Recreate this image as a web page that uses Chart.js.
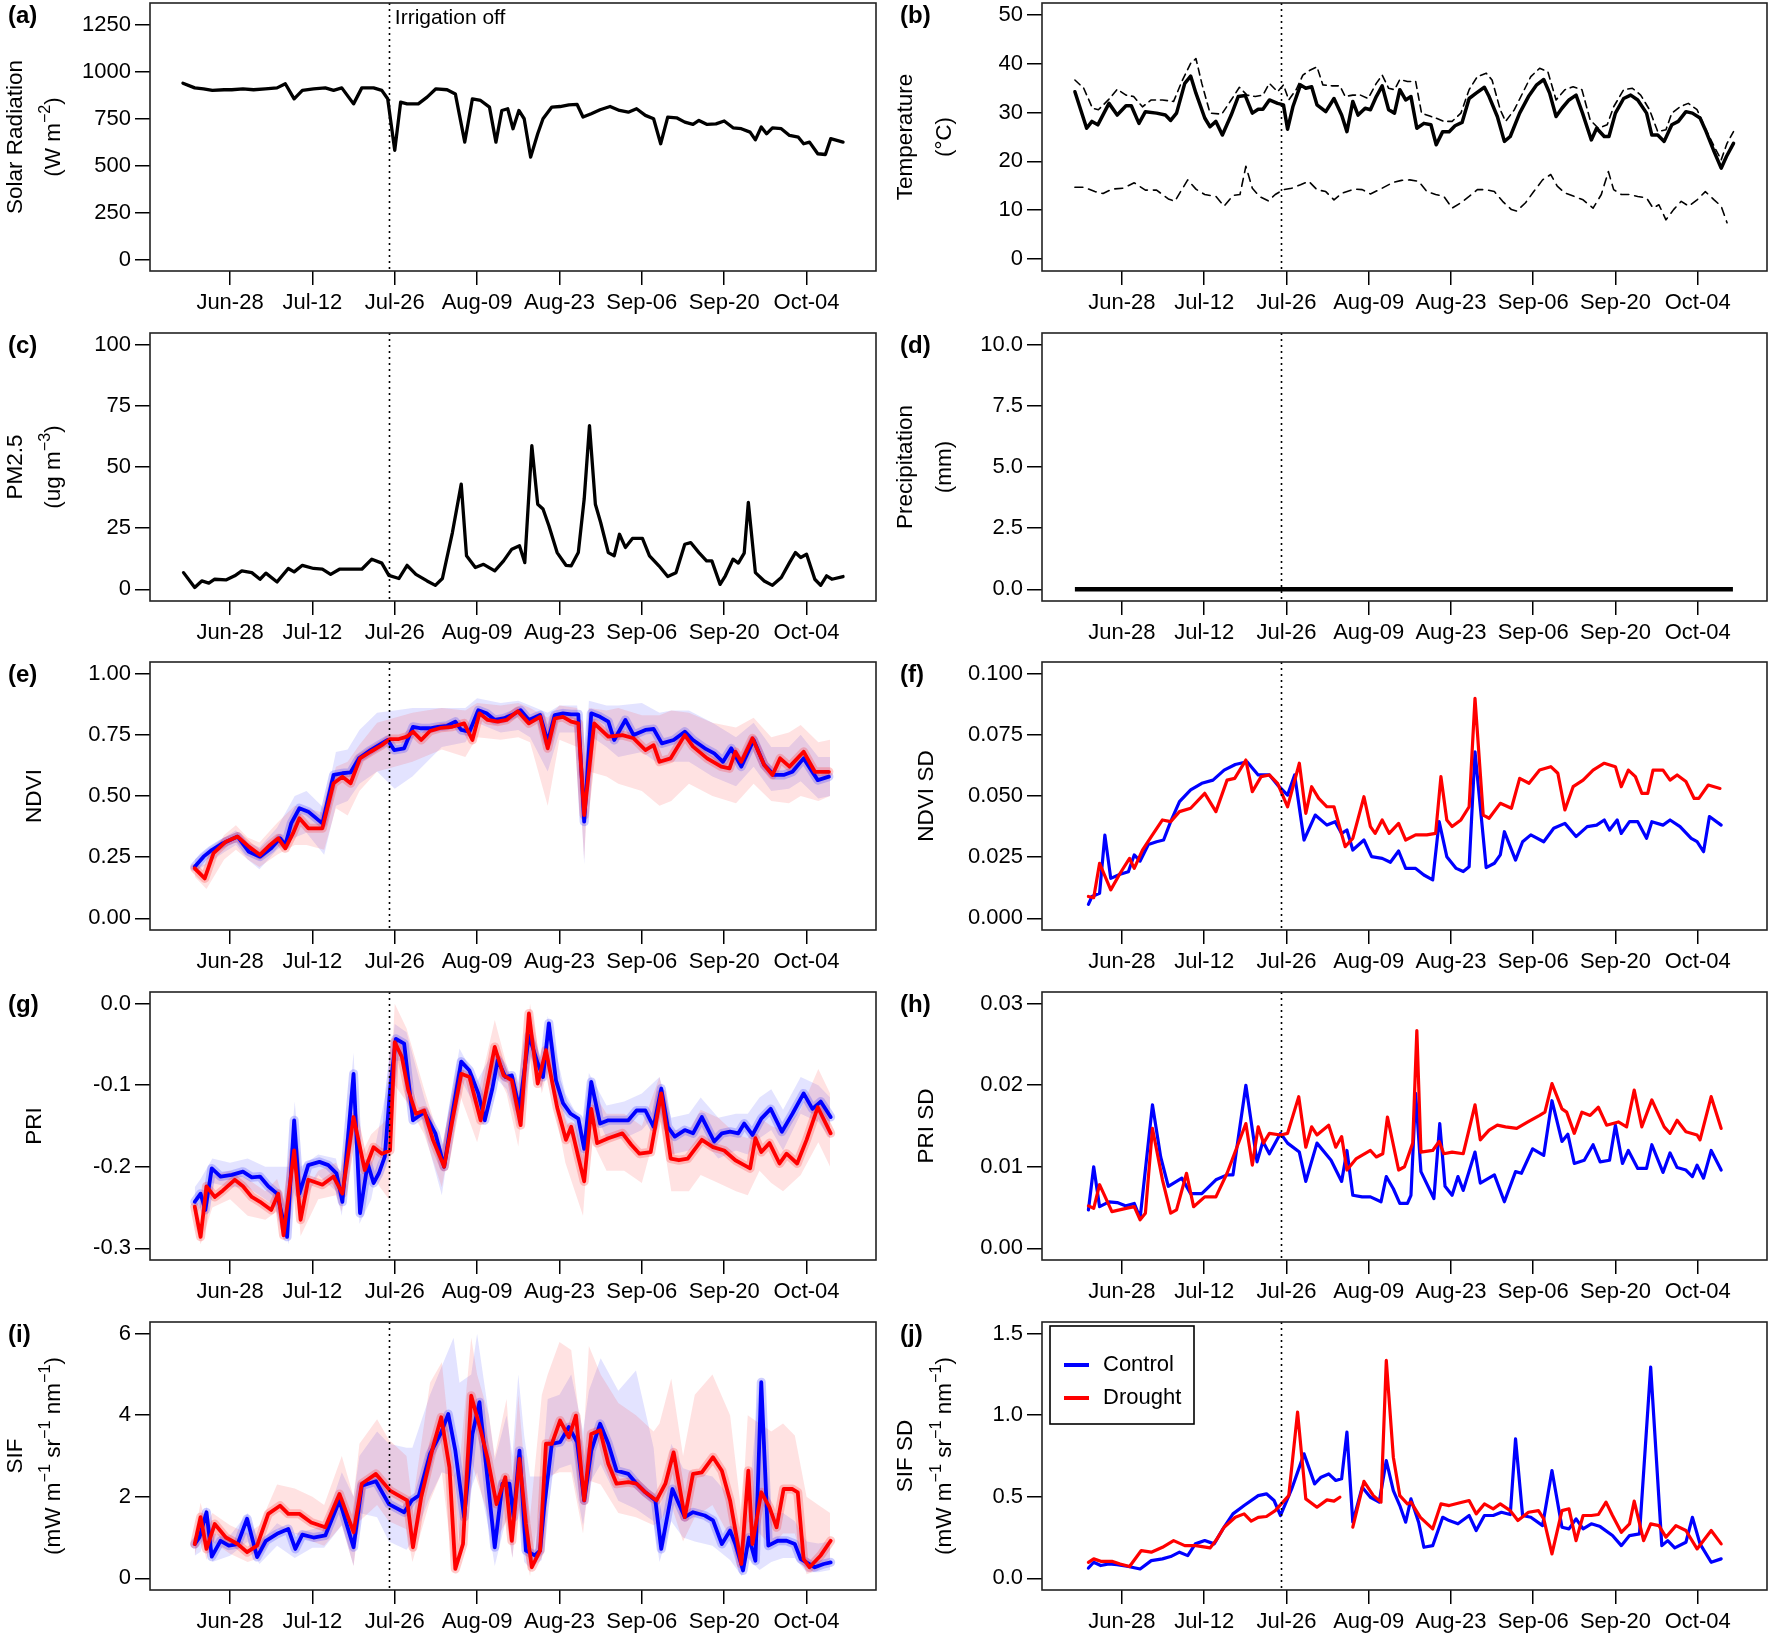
<!DOCTYPE html>
<html>
<head>
<meta charset="utf-8">
<script src="https://cdn.jsdelivr.net/npm/chart.js"></script>
<style>
html,body{margin:0;padding:0;background:#fff;}
body{width:1770px;height:1636px;position:relative;overflow:hidden;}
canvas{position:absolute;}
</style>
</head>
<body>
<script>
// ---------------- shared axis data ----------------
// x values are days relative to Jun-28
const tickDays = [0,14,28,42,56,70,84,98];
const tickLabels = ['Jun-28','Jul-12','Jul-26','Aug-09','Aug-23','Sep-06','Sep-20','Oct-04'];
const irrigationDay = 27;
const irrigationText = 'Irrigation off';
const legendLabels = ['Control','Drought'];

// ---------------- (a) solar radiation ----------------
const solarDays = [-8,-6,-4.5,-3,-1,0.3,2.2,4,6,8,9.4,10.9,12.3,14.2,16.2,17.6,19,21,22.4,24.4,25.8,26.8,28,29,30.1,32,33.5,35,36.9,38.3,39.9,41.2,42.6,44.1,45.2,46.2,47.2,48.1,49.1,50,51.1,52.3,53.2,54.7,56.1,57.6,59,60,61.4,62.9,64.6,66.2,67.7,69.1,70.6,72,73.2,74.4,75.9,77.3,78.7,79.7,81.1,82.6,84,85.5,86.9,88.4,89.3,90.3,91.2,92.2,93.7,95.1,96.6,97.5,98.5,99.9,101.2,102.1,104.2];
const solarVals = [938,913,908,900,903,903,908,903,908,913,935,855,900,908,913,900,913,828,913,913,900,855,581,837,828,828,864,908,903,881,625,855,846,811,625,793,802,696,793,749,545,669,749,811,814,823,825,758,776,797,814,793,784,802,767,749,616,758,754,731,719,740,719,722,737,701,696,678,637,705,669,701,696,660,651,616,625,563,559,643,625];

// ---------------- (b) temperature ----------------
const tMeanDays = [-8,-6,-5.1,-4.1,-2.2,-0.8,0.7,1.6,2.9,4,5.9,7.4,8.3,9.3,10.7,11.7,12.6,14.1,15,16,17.1,18.6,19.8,21,22.2,23.2,24,25.1,26.5,27.5,28.2,29.1,30.4,31.3,32.3,33.2,34.7,36.1,37.4,38.3,39.3,40.2,41.4,42.3,43.3,44.3,45.4,46.4,47.3,48.3,49.2,50.2,51.4,52.6,53.5,54.6,55.7,56.7,57.9,59.1,60.3,61.7,62.5,63.9,65.1,66.1,67.7,69.2,70.6,71.8,72.8,73.9,74.9,76.1,77.3,78.4,79.9,80.8,82.1,82.9,84,85.4,86.6,87.8,89.3,90.2,91.2,92.3,93.6,94.7,96,97.1,98.4,99.3,100.8,102,102.9,104.1];
const tMeanVals = [34.3,26.8,28.2,27.5,31.9,29.5,31.4,31.4,27.8,30.2,29.9,29.5,28.4,29.9,36,37.5,34,28.9,27.1,28.2,25.4,29.5,33.3,33.5,29.9,30.7,30.7,32.6,31.9,31.6,26.6,31.2,35.7,35,35.3,31.6,30.2,32.9,29.5,26.1,32.3,29.5,30.9,30.6,33.3,35.5,30.6,29.9,34.7,32.6,33.3,26.8,27.8,27.5,23.4,26.1,26.1,27.3,28,32.9,34,35.2,33.3,29.2,24.1,25.1,29.9,33.3,35.7,36.8,34,29.2,30.9,32.6,33.6,29.9,24.4,26.8,25.1,25.1,29.9,32.9,33.6,32.6,29.9,25.4,25.4,24.1,27.5,28.2,30.2,29.9,28.9,26.5,22,18.6,21,23.7];
const tMaxDays = [-8,-6.5,-5,-4,-2,-0.8,0.7,2,3.5,5,6.9,8.8,10.2,11.7,12.6,13.6,15,17,18.6,20,21.3,22.7,24,25.1,26.5,27.5,28.4,29.7,30.8,32,33.2,34.2,35.8,37.1,38,39.3,40.6,41.9,43.3,44.3,45.4,46.4,47.3,48.6,50,51,52.4,53.4,54.8,56.2,57.7,59.1,60.5,62,63,64.4,65.3,66.8,68.2,69.6,71.1,72.5,73.9,75.4,76.8,78.3,79.7,81.1,82.6,83.7,85.4,86.9,88.3,89.8,91.2,92.6,93.6,95,96.4,97.9,99.3,100.8,102,103,104.1];
const tMaxVals = [36.7,35,30.9,30.6,33,34.8,33.6,33.3,31.2,32.6,32.6,32.3,36.4,40.1,41.1,36,29.9,29.7,32.6,35.2,33.6,33.3,33.6,36,34.3,35.7,32.6,34.8,37.7,38.7,39.4,35.7,35.5,35.5,33.3,33.6,33.6,32.9,36,37.7,35,34.7,36.8,36.4,36.4,29.9,29.3,28.9,28.2,28.2,29.9,34.7,37.4,38.1,36.7,30.6,28.2,30.6,34,37.4,39.1,38.4,32.6,34.7,35.3,34.7,28.5,26.8,27.5,31.2,34.7,35,33.6,30.6,26.1,26.5,29.9,31.2,31.9,30.6,26.8,23.1,20.3,23.7,26.1];
const tMinDays = [-8,-6.5,-4.6,-3.2,-1.7,0.2,2.1,4,5.9,7.9,9,10.2,11.2,12.6,14.1,16,17.4,18.9,20.1,21.1,22.2,23.4,24.9,26.1,27.5,28.9,30.4,31.8,33.2,34.7,36.1,37.5,39.5,40.9,42.3,44.3,46.2,47.6,49,50.5,51.9,53.4,54.8,56.2,57.7,59.1,60.5,62,63.4,64.8,66.3,67.2,68.7,70.1,71.6,73,74.1,75.4,77,78.5,80.2,81.6,82.8,83.7,85,86.4,87.8,89.3,90.4,91.4,92.6,93.9,95.2,96.5,97.9,99.3,100.8,102,103];
const tMinVals = [14.7,14.7,13.8,13.4,14.3,14.5,15.6,14.1,14.1,12.3,11.8,14.2,16.2,14.3,13.2,12.8,10.8,13,13.2,19,14.5,12.8,11.9,13.2,14.2,14.5,15.2,15.9,14.2,13.8,12.1,13.5,14.3,14.2,13.3,14.5,15.7,16.1,16.2,15.9,13.8,13.2,12.8,10.4,11.5,12.8,14.2,14.2,13.8,11.8,10.1,9.8,11.5,13.8,16.2,17.3,14.9,13.5,12.8,12.1,10.4,13.2,17.9,14.2,13.2,13.2,12.8,12.5,10.4,11.1,8,10.1,11.8,10.8,12.1,13.8,12.1,10.8,7.4];

// ---------------- (c) PM2.5 ----------------
const pmDays = [-7.9,-6,-4.8,-3.6,-2.6,-0.7,0.8,2,3.7,5.1,6.1,8,9.9,10.9,12.3,14.2,15.7,17.1,18.6,20.5,22.4,24.1,25.8,27,28.7,30.1,31.6,33.5,34.9,36.1,37.8,39.3,40.2,41.7,43.1,45,46.5,47.9,49.2,50.1,51.3,52.3,53.2,54.2,55.6,57.1,58,59.2,60.2,61.1,62.1,63,64.3,65.3,66.2,67.2,68.4,70.1,71.3,72.9,74.4,75.8,77.3,78.3,79.7,81,81.9,83.3,84.2,85.5,86.4,87.4,88.1,89.3,90.8,92.2,93.7,95.1,96.1,97,98,99.4,100.4,101.4,102.3,104.2];
const pmVals = [6.8,0.7,3.4,2.5,4.1,3.8,5.5,7.5,6.8,4.1,6.6,3,8.5,7.1,9.8,8.5,8.2,6.1,8.2,8.2,8.2,12.3,10.7,5.7,4.4,9.8,6.1,3.4,1.6,4.4,23.2,43,13.7,8.9,10.2,7.5,11.6,16.4,17.8,10.9,58.7,34.8,32.8,26,15,9.8,9.6,15,36.9,66.9,34.8,27.3,15,13.7,22.5,17.1,20.8,20.8,13.7,9.6,5.2,6.8,18.4,19.1,15,11.6,11.6,2,5.5,12.3,10.7,14.8,35.5,6.8,3.4,1.6,4.8,10.9,15,13,14.3,4.1,1.6,5.5,4.1,5.2];

// ---------------- (d) precipitation ----------------
const precipDays = [-8,0,14,28,42,56,70,84,98,104];
const precipVals = [0,0,0,0,0,0,0,0,0,0];

// ---------------- (e) NDVI ----------------
const ndviCtrlDays = [-6,-4.5,-3.1,-1.2,1.3,3.2,5.1,7,8.5,9.4,10.4,11.8,13.3,15.7,17.6,19.1,20.5,21.9,23.9,25.3,26.8,27.9,29.6,31.1,32.5,34,35.4,36.9,38.3,39.3,40.7,42.2,43.6,45,46.5,47.9,49.4,50.8,52.7,54,55.2,56.6,58,59.2,60.2,61.4,62.9,64.3,65.3,67.2,68.6,70.6,72,73.4,75.4,77.3,78.7,80.7,82.3,83.8,85.2,86.9,89,90.8,92.5,94.1,95.6,97.5,99.9,101.8];
const ndviCtrlVals = [0.211,0.252,0.279,0.307,0.334,0.272,0.252,0.286,0.327,0.3,0.388,0.45,0.436,0.388,0.586,0.593,0.597,0.654,0.688,0.708,0.729,0.688,0.695,0.783,0.777,0.777,0.783,0.787,0.804,0.77,0.763,0.851,0.838,0.811,0.817,0.831,0.851,0.811,0.831,0.722,0.831,0.838,0.834,0.834,0.395,0.838,0.824,0.804,0.729,0.811,0.749,0.77,0.774,0.715,0.729,0.763,0.729,0.695,0.674,0.64,0.695,0.62,0.729,0.627,0.586,0.586,0.599,0.654,0.565,0.579];
const ndviDrtDays = [-6,-4.3,-2.8,-0.7,1.3,3.2,5.1,6.8,8.2,9.4,10.7,11.8,13.3,15.7,17.6,19.1,20.5,22.1,23.9,25.8,27.2,28.7,30.1,31.1,32.5,34,35.9,37.8,39.8,41.2,42.4,43.8,45.5,47,48.9,50.8,52.7,54,55.2,56.6,58,59.2,60.2,61.9,64.3,66.7,68.6,70.6,72,73,74.9,77.3,78.7,81.1,83.5,84.9,85.9,86.9,88.8,90.8,92.2,93.5,95.1,97.5,99.4,101.8];
const ndviDrtVals = [0.204,0.163,0.266,0.313,0.334,0.293,0.259,0.3,0.327,0.286,0.347,0.409,0.368,0.368,0.552,0.579,0.552,0.654,0.681,0.708,0.733,0.733,0.743,0.763,0.729,0.766,0.779,0.783,0.797,0.729,0.838,0.811,0.804,0.811,0.847,0.797,0.824,0.695,0.817,0.824,0.804,0.797,0.422,0.797,0.743,0.749,0.736,0.688,0.708,0.64,0.654,0.749,0.702,0.654,0.62,0.613,0.681,0.64,0.736,0.627,0.586,0.654,0.62,0.681,0.599,0.599];
// envelope of the individual-pixel lines
const ndviBandDays = [-6,-4,-1,1,3,5,8,11,13,16,18,20,22,25,28,31,36,40,42,46,49,51,54,56,59,60.2,61,64,66,70,73,75,78,82,86,89,92,95,97,100,102];
const ndviCtrlHi = [0.24,0.28,0.33,0.36,0.31,0.29,0.37,0.50,0.52,0.45,0.68,0.69,0.77,0.84,0.85,0.86,0.86,0.86,0.90,0.88,0.89,0.87,0.84,0.87,0.87,0.55,0.89,0.87,0.87,0.88,0.84,0.85,0.85,0.80,0.74,0.80,0.70,0.70,0.75,0.66,0.66];
const ndviCtrlLo = [0.19,0.22,0.27,0.30,0.24,0.20,0.28,0.33,0.35,0.26,0.46,0.48,0.55,0.60,0.53,0.58,0.70,0.72,0.80,0.76,0.77,0.74,0.60,0.76,0.76,0.22,0.75,0.70,0.66,0.68,0.63,0.64,0.64,0.58,0.54,0.62,0.52,0.53,0.56,0.49,0.50];
const ndviDrtHi = [0.22,0.22,0.34,0.38,0.33,0.31,0.39,0.46,0.45,0.43,0.62,0.64,0.71,0.80,0.82,0.84,0.86,0.85,0.88,0.87,0.88,0.86,0.82,0.87,0.86,0.60,0.86,0.85,0.86,0.83,0.83,0.85,0.84,0.80,0.78,0.82,0.74,0.76,0.79,0.72,0.73];
const ndviDrtLo = [0.17,0.12,0.24,0.28,0.24,0.21,0.26,0.30,0.30,0.28,0.45,0.42,0.52,0.60,0.62,0.64,0.69,0.66,0.74,0.73,0.74,0.72,0.46,0.73,0.70,0.24,0.60,0.58,0.55,0.52,0.46,0.48,0.55,0.50,0.47,0.55,0.48,0.47,0.50,0.48,0.50];

// ---------------- (f) NDVI SD ----------------
const ndviSdCtrlDays = [-5.7,-5.1,-3.8,-2.9,-1.9,-0.3,1.1,2.1,3.1,4.5,5.9,7.1,8.3,9.8,11.7,13.6,15.5,17.4,19.3,21.3,23.2,25.1,26.5,28.2,29.4,31,32.9,34.9,36.3,37.4,38.3,39.3,41.2,42.5,44.3,45.7,47.1,48.3,50,51.4,52.9,54,55.3,56.9,58.1,59.1,60.1,62,63.4,64.4,65.1,67,68.2,69.6,71.8,73.5,75.4,77.3,79.2,80.8,82.1,83,84.3,85,86.4,87.8,89.3,90.2,92.1,93.3,95,96.9,97.9,99,100,102];
const ndviSdCtrlVals = [0.0057,0.0089,0.0102,0.034,0.0163,0.018,0.019,0.0259,0.0234,0.0302,0.0313,0.032,0.0395,0.0477,0.0525,0.0552,0.0565,0.0606,0.0629,0.064,0.0586,0.0586,0.0545,0.0504,0.0586,0.032,0.0422,0.0381,0.0395,0.0347,0.0361,0.0279,0.032,0.0252,0.0245,0.0229,0.0275,0.0204,0.0204,0.0177,0.0157,0.0395,0.0252,0.0204,0.0191,0.0211,0.0681,0.0207,0.0225,0.0259,0.0354,0.0238,0.0313,0.0341,0.0313,0.0368,0.0388,0.0334,0.0375,0.0381,0.0402,0.0361,0.0402,0.0347,0.0395,0.0395,0.0327,0.0395,0.0381,0.0402,0.0375,0.0327,0.0313,0.0272,0.0416,0.0381];
const ndviSdDrtDays = [-5.7,-4.8,-3.8,-1.9,-0.3,1.3,2.1,3.5,5,6.9,8.3,9.8,11.7,14.1,16,17.9,19.2,21.1,22.2,23.7,25.1,26.5,28.2,28.9,30.2,31.3,32.3,33.5,34.9,36.1,38,39.3,41.2,42.3,43.1,44.3,45.5,47.1,48.3,50,51.9,53.4,54.3,55.3,56.2,57.7,59.1,60.1,61.5,62.5,64.4,66.3,67.7,69.3,71.1,73,74.2,75.4,76.8,78.5,80.2,82.1,84,85,86.2,87.4,88.5,89.5,90.4,92.1,93.3,94.5,96,97.4,98.2,99.8,101.8];
const ndviSdDrtVals = [0.0089,0.0084,0.0225,0.0116,0.0184,0.0245,0.0204,0.0279,0.0334,0.0402,0.0395,0.0436,0.045,0.0511,0.0436,0.0565,0.0572,0.0647,0.0518,0.0579,0.0586,0.0552,0.0456,0.0518,0.0634,0.0429,0.0538,0.049,0.0456,0.0456,0.0293,0.0327,0.0497,0.0375,0.0347,0.0402,0.0347,0.0388,0.032,0.0341,0.0341,0.0347,0.0579,0.0402,0.0375,0.0402,0.0456,0.0899,0.0422,0.0409,0.047,0.045,0.0572,0.0552,0.0606,0.062,0.0593,0.0443,0.0538,0.0565,0.0606,0.0634,0.062,0.0538,0.0606,0.0579,0.0511,0.0511,0.0606,0.0606,0.0565,0.0586,0.0559,0.049,0.049,0.0545,0.0531];

// ---------------- (g) PRI ----------------
const priCtrlDays = [-6,-5,-4.2,-3.1,-1.6,0.3,2.2,3.7,5.1,6.5,8,9.7,10.9,11.8,13.3,15.2,16.7,18.1,19.1,21,22.1,23.4,24.4,25.3,26.3,27.2,28.2,29.6,31.1,33,34.9,36.4,37.8,39.3,40.7,42.2,43.3,44.6,45.5,46.8,47.9,49.2,50.8,52.3,53.2,54.2,55.4,56.6,57.9,59.2,60.2,61.4,62.9,64.3,65.7,67.7,69.1,70.6,72,73.3,74.4,75.6,77.3,78.7,80.2,82.3,83.6,85,86.4,87.4,88.8,90.3,91.9,93.8,95.6,97.5,99,100.4,102.1];
const priCtrlVals = [-0.243,-0.233,-0.253,-0.202,-0.212,-0.21,-0.206,-0.213,-0.212,-0.224,-0.233,-0.286,-0.143,-0.233,-0.198,-0.194,-0.198,-0.208,-0.243,-0.086,-0.257,-0.196,-0.22,-0.208,-0.188,-0.106,-0.043,-0.049,-0.143,-0.133,-0.159,-0.2,-0.135,-0.071,-0.082,-0.11,-0.143,-0.104,-0.069,-0.09,-0.088,-0.129,-0.039,-0.073,-0.09,-0.024,-0.094,-0.122,-0.135,-0.141,-0.178,-0.096,-0.147,-0.143,-0.143,-0.143,-0.131,-0.131,-0.151,-0.104,-0.151,-0.163,-0.155,-0.159,-0.139,-0.169,-0.159,-0.157,-0.159,-0.147,-0.161,-0.141,-0.129,-0.157,-0.135,-0.11,-0.129,-0.12,-0.139];
const priDrtDays = [-6,-5,-4,-2.6,-1.2,0.8,2.2,3.7,5.1,7,8.2,9.1,10.9,12,13.3,15.7,17.6,19.1,21,22.9,24.4,25.8,27.2,28,29.2,30.3,31.6,33,34.5,36.4,37.8,39.3,40.7,42.6,45,46.5,47.9,49.4,50.8,52.3,53.7,55.6,57.1,58,59.2,60.2,61.4,62.4,64.3,66.7,68.2,69.6,71.5,73.3,74.9,76.3,77.8,80.2,82.1,84,85.9,87.4,88.4,89.3,90.3,91.7,93.4,94.6,96.4,98,99.9,102.1];
const priDrtVals = [-0.249,-0.286,-0.224,-0.237,-0.229,-0.216,-0.224,-0.237,-0.243,-0.253,-0.233,-0.284,-0.18,-0.265,-0.216,-0.222,-0.212,-0.233,-0.139,-0.204,-0.176,-0.184,-0.18,-0.047,-0.065,-0.106,-0.135,-0.131,-0.167,-0.2,-0.143,-0.086,-0.09,-0.143,-0.053,-0.088,-0.094,-0.149,-0.012,-0.098,-0.057,-0.127,-0.167,-0.151,-0.188,-0.218,-0.129,-0.171,-0.165,-0.159,-0.173,-0.184,-0.182,-0.11,-0.19,-0.192,-0.19,-0.167,-0.176,-0.18,-0.192,-0.198,-0.202,-0.165,-0.182,-0.171,-0.196,-0.184,-0.196,-0.167,-0.127,-0.159];
const priBandDays = [-6,-5,-3,0,3,6,8,10,11,12,15,18,19,21,22,24,27,28,30,33,36,39,42,45,47,49,51,53,54,57,60,61,64,67,70,73,75,78,80,83,86,88,90,92,94,97,100,102];
const priCtrlHi = [-0.225,-0.215,-0.19,-0.195,-0.19,-0.2,-0.2,-0.2,-0.12,-0.2,-0.185,-0.19,-0.22,-0.06,-0.21,-0.2,-0.09,-0.025,-0.035,-0.115,-0.18,-0.055,-0.095,-0.055,-0.075,-0.115,-0.025,-0.075,-0.015,-0.11,-0.15,-0.085,-0.125,-0.12,-0.11,-0.09,-0.14,-0.135,-0.115,-0.14,-0.135,-0.135,-0.115,-0.105,-0.13,-0.09,-0.1,-0.115];
const priCtrlLo = [-0.26,-0.25,-0.22,-0.225,-0.225,-0.24,-0.25,-0.295,-0.17,-0.25,-0.21,-0.23,-0.26,-0.11,-0.27,-0.24,-0.13,-0.07,-0.07,-0.155,-0.235,-0.09,-0.13,-0.09,-0.105,-0.15,-0.06,-0.105,-0.04,-0.145,-0.2,-0.115,-0.165,-0.165,-0.155,-0.13,-0.185,-0.18,-0.165,-0.19,-0.18,-0.185,-0.165,-0.155,-0.18,-0.135,-0.145,-0.165];
const priDrtHi = [-0.235,-0.27,-0.21,-0.205,-0.215,-0.23,-0.215,-0.26,-0.16,-0.24,-0.205,-0.195,-0.21,-0.115,-0.19,-0.16,-0.14,0.0,-0.03,-0.105,-0.175,-0.07,-0.115,-0.02,-0.075,-0.12,0.0,-0.08,-0.03,-0.14,-0.19,-0.1,-0.135,-0.135,-0.15,-0.09,-0.155,-0.155,-0.13,-0.14,-0.16,-0.165,-0.14,-0.15,-0.155,-0.13,-0.08,-0.11];
const priDrtLo = [-0.27,-0.295,-0.25,-0.24,-0.26,-0.265,-0.255,-0.29,-0.2,-0.285,-0.24,-0.235,-0.255,-0.16,-0.23,-0.21,-0.24,-0.1,-0.12,-0.16,-0.225,-0.11,-0.17,-0.08,-0.11,-0.175,-0.04,-0.11,-0.08,-0.195,-0.26,-0.16,-0.205,-0.205,-0.22,-0.14,-0.23,-0.23,-0.21,-0.22,-0.23,-0.235,-0.205,-0.22,-0.23,-0.21,-0.17,-0.2];

// ---------------- (h) PRI SD ----------------
const priSdCtrlDays = [-5.7,-4.8,-3.8,-2.2,-0.8,0.7,2.1,3.1,5.2,6.6,7.9,10.2,11.7,13.6,16,17.9,18.9,21.1,23,24,25.1,27,28.2,30.2,31.3,33.2,35.6,37.4,38.3,39.3,40.9,42.3,44.1,45,46.2,47.3,48.6,49.2,50,50.9,53.1,54.1,55,56.2,57.2,58.1,60.1,61,63.4,65.1,67,68,69.9,71.8,73.2,74.9,75.9,77,78.7,80.2,81.4,83,84,85.2,86.2,87.8,89.3,90.2,92.1,93.3,94.5,96,97.1,97.9,99,100.3,102];
const priSdCtrlVals = [0.0047,0.01,0.0051,0.0057,0.0056,0.0052,0.0055,0.0037,0.0176,0.0112,0.0076,0.0086,0.0067,0.0067,0.0084,0.009,0.009,0.02,0.0106,0.0131,0.0116,0.0141,0.0129,0.0118,0.0082,0.0129,0.0108,0.0082,0.012,0.0065,0.0063,0.0063,0.0057,0.0088,0.0073,0.0055,0.0055,0.0065,0.019,0.0094,0.0061,0.0153,0.0076,0.0065,0.0088,0.0071,0.0118,0.008,0.009,0.0057,0.0094,0.0092,0.0122,0.0114,0.0181,0.0131,0.014,0.0104,0.0108,0.0127,0.0106,0.0108,0.0151,0.0104,0.012,0.0098,0.0098,0.0127,0.0093,0.0117,0.0099,0.0096,0.0088,0.0102,0.0086,0.012,0.0096];
const priSdDrtDays = [-5.7,-4.8,-3.8,-1.7,0.7,2.1,3.1,4,5.2,6.9,8.3,9.3,11,12.2,14.1,16,17.9,21.1,22.2,23.2,24.1,25.1,27,28.2,30.1,31.3,32.3,33.2,35.2,36.4,37.4,38.3,39.9,42.3,43.3,44.4,45.2,47.1,48.1,49.5,50.2,50.9,52.9,54,54.8,56.2,58.1,60.1,61,62.5,63.9,65.3,67.2,69.1,71.1,72,73.2,74.9,75.7,77,78.3,79.7,81.1,82.5,84.5,85.9,87.2,88.5,90.2,92.3,93.3,94.5,96,97.9,98.4,100.3,102];
const priSdDrtVals = [0.0052,0.0049,0.0078,0.0045,0.0049,0.0051,0.0035,0.0043,0.0147,0.0084,0.0043,0.0047,0.0092,0.0051,0.0063,0.0063,0.0092,0.0153,0.0102,0.0149,0.0129,0.0141,0.0139,0.0141,0.0186,0.0124,0.0149,0.0139,0.0151,0.0124,0.0137,0.0096,0.011,0.012,0.0112,0.0116,0.0161,0.0096,0.01,0.0129,0.0267,0.0118,0.012,0.0131,0.0116,0.0118,0.0116,0.0176,0.0133,0.0145,0.0151,0.0149,0.0147,0.0155,0.0163,0.0167,0.0202,0.0171,0.0167,0.0141,0.0167,0.0163,0.0173,0.0151,0.0155,0.0149,0.0194,0.0149,0.0182,0.0149,0.0141,0.0157,0.0143,0.0139,0.0133,0.0186,0.0147];

// ---------------- (i) SIF ----------------
const sifCtrlDays = [-6,-5.2,-4,-3.1,-1.6,-0.2,1.3,2.9,4.6,6.1,8,9.9,11.1,12.3,14.2,16.2,18.6,21,22.4,24.8,27,29.6,30.9,32.1,34,35.9,37.1,38.3,39.8,41.2,42.4,43.8,45,46.3,47.5,48.2,49.2,50.3,51.8,52.7,53.4,54.7,56.1,57.6,59,60.2,61.4,62.9,64.3,65.7,67.7,69.1,70.6,72.3,73.3,75.2,76.3,77.3,78.7,80.7,82.1,83.6,85,85.9,87.2,88.2,89.3,90.3,91.5,93.1,94.6,96,97,98,99.4,100.9,102.1];
const sifCtrlVals = [0.84,1,1.62,0.53,0.92,0.8,0.84,1.46,0.52,0.92,1.09,1.21,0.72,1.07,1,1.05,1.91,0.76,2.27,2.38,1.82,1.62,1.91,2.03,3.05,3.58,4.03,3.13,1.5,3.54,4.32,2.4,0.76,2.32,2.32,1.5,3.13,0.68,0.56,0.68,1.74,3.3,3.34,3.71,3.34,1.91,3.13,3.79,3.3,2.64,2.56,2.32,2.11,1.91,0.72,2.19,1.82,1.5,1.62,1.54,1.42,0.84,1.17,0.84,0.19,1,0.43,4.81,0.8,0.92,0.92,0.84,0.47,0.39,0.27,0.35,0.39];
const sifDrtDays = [-6,-5,-4,-2.6,-0.7,1.3,2.9,4.6,6.5,8.5,9.9,11.8,13.8,16.2,18.6,21,22.4,24.8,27.2,30.1,31.1,32.5,34.5,35.9,37.3,38.3,39.6,41,42.6,43.8,45.3,46.8,47.9,49.2,50.3,51.3,52.7,53.7,54.7,56.1,57.6,58.8,60.2,61.4,62.9,64.3,65.7,67.7,69.1,70.6,72.5,74,75.4,77.3,78.7,80.2,82.1,83.6,85,86.9,88.1,88.8,90.3,91.7,92.9,94.1,95.6,96.5,97.5,98.5,100.4,102.1];
const sifDrtVals = [0.84,1.5,0.72,1.33,1,0.84,0.64,0.8,1.58,1.78,1.58,1.58,1.37,1.25,2.07,1.13,2.32,2.56,2.15,1.91,0.76,1.99,3.22,3.95,2.72,0.23,0.84,4.48,3.63,2.93,1.82,2.48,0.92,2.93,1.33,0.27,0.68,3.3,3.3,3.87,3.46,3.99,1.91,3.54,3.63,2.81,2.32,2.36,2.32,2.11,1.91,2.32,3.09,1.5,2.56,2.6,2.97,2.64,1.91,0.35,2.64,0.84,2.11,1.74,1.25,2.19,2.19,2.11,0.47,0.27,0.56,0.92];
const sifBandDays = [-6,-5,-4,-3,0,3,5,8,11,14,16,19,21,22,25,27,30,31,34,36,38,39,41,42,44,45,47,48,49,50,51,53,54,56,58,60,61,63,66,69,72,73,75,77,79,82,85,87,88,90,92,94,96,98,100,102];
const sifCtrlHi = [1.0,1.2,1.75,1.1,1.05,1.6,0.85,1.35,1.1,1.2,1.3,2.6,2.0,3.0,3.6,3.3,3.2,3.2,4.5,5.2,5.9,4.8,5.0,6.0,4.0,2.9,4.0,3.0,5.0,3.5,2.5,2.5,4.4,4.5,5.0,3.6,4.6,5.4,4.6,5.1,3.2,1.6,3.3,2.7,2.6,2.5,2.0,0.8,1.6,4.9,1.6,1.6,1.4,0.9,0.85,0.9];
const sifCtrlLo = [0.55,0.65,1.1,0.4,0.55,0.9,0.35,0.8,0.5,0.75,0.75,1.3,0.3,1.6,1.5,0.9,0.7,0.9,2.0,2.6,2.5,0.9,2.2,2.6,1.2,0.3,1.5,0.5,2.0,0.4,0.25,0.45,2.4,2.7,2.8,1.3,2.3,2.8,1.9,1.7,1.4,0.4,1.4,1.0,0.9,0.8,0.45,0.05,0.5,0.2,0.4,0.5,0.5,0.15,0.15,0.2];
const sifDrtHi = [1.1,1.85,1.3,1.6,1.3,1.1,1.3,2.3,2.2,2.0,1.8,3.0,2.0,3.3,3.9,3.4,3.0,1.8,4.8,5.3,2.5,2.8,5.9,5.0,4.0,3.0,4.4,2.5,4.5,2.8,1.5,4.5,5.0,5.8,5.6,3.2,5.7,5.0,4.3,4.0,3.6,3.8,4.9,3.0,4.5,5.0,4.0,1.5,4.0,3.8,3.6,3.8,3.5,2.0,1.8,1.6];
const sifDrtLo = [0.55,1.1,0.45,0.9,0.6,0.4,0.5,1.2,1.1,0.9,0.8,1.3,0.3,1.4,1.8,1.4,1.2,0.4,1.9,2.6,0.15,0.4,2.9,2.4,1.5,0.9,1.4,0.5,1.9,0.7,0.05,2.2,2.5,2.6,2.6,1.1,2.4,2.3,1.6,1.5,1.3,1.4,1.8,0.9,1.5,1.8,1.0,0.15,1.4,1.1,0.8,1.1,1.1,0.1,0.2,0.5];

// ---------------- (j) SIF SD ----------------
const sifSdCtrlDays = [-5.7,-4.8,-3.6,-2.2,-0.8,1.1,3.1,5,6.9,8.3,9.8,11.2,12.5,14.1,15.7,17.2,18.9,20.8,23.2,24.6,25.9,27,28.9,31,32.8,33.9,35.2,36.4,37.4,38.3,39.3,40.9,42.3,43.8,45,46.2,47.3,48.3,49.2,50.5,51.4,52.9,54.6,55.7,57.2,59.1,60.3,61.7,63.2,64.6,66.1,67,68.2,69.6,71.6,73.2,74.9,76.1,77.3,78.5,79.9,81.4,83.5,85,86.4,88.1,90,91.9,92.9,94.1,96,97.1,98.4,100.3,102];
const sifSdCtrlVals = [0.063,0.098,0.078,0.088,0.084,0.072,0.057,0.108,0.119,0.133,0.16,0.139,0.211,0.231,0.211,0.303,0.395,0.446,0.507,0.518,0.477,0.385,0.548,0.763,0.579,0.62,0.64,0.6,0.61,0.896,0.344,0.559,0.497,0.467,0.722,0.538,0.446,0.344,0.487,0.344,0.19,0.2,0.374,0.354,0.334,0.385,0.293,0.385,0.385,0.405,0.391,0.855,0.385,0.374,0.323,0.661,0.313,0.303,0.364,0.303,0.334,0.317,0.262,0.2,0.262,0.272,1.295,0.2,0.231,0.186,0.221,0.374,0.211,0.098,0.119];
const sifSdDrtDays = [-5.7,-4.8,-3.6,-1.7,-0.3,1.3,3.3,5,6.9,8.8,10.7,12.6,15,16,17.4,19.3,20.8,22,23.2,24.6,26.1,28.4,29.9,31.3,33.2,34.9,36.1,37.1,38.2,39.3,41.2,42.8,44.1,45,46.2,47.3,48.6,49.2,50.8,52.9,54.3,55.7,57.2,59.1,60.3,61.7,63.2,64.4,66.1,67.4,69.2,70.9,71.8,73.2,74.9,76.1,77.3,78.5,79.9,81.1,82.4,83.5,85,86.4,87.2,88.8,90,91.4,92.6,94.3,96,97.9,100.3,102];
const sifSdDrtVals = [0.098,0.119,0.104,0.104,0.088,0.072,0.17,0.16,0.19,0.231,0.2,0.2,0.186,0.231,0.313,0.374,0.395,0.35,0.374,0.379,0.415,0.507,1.019,0.487,0.436,0.481,0.473,0.497,null,0.313,0.595,0.507,0.467,1.336,0.743,0.507,0.456,0.467,0.374,0.303,0.456,0.446,0.46,0.477,0.395,0.456,0.426,0.456,0.415,0.354,0.405,0.415,0.364,0.149,0.415,0.426,0.231,0.385,0.385,0.391,0.467,0.385,0.282,0.334,0.473,0.231,0.334,0.323,0.252,0.323,0.293,0.18,0.293,0.211];

// ================= rendering =================
const FONT = '"Liberation Sans", Arial, Helvetica, sans-serif';
const BLUE = '#0000FF', RED = '#FF0000';
const BLUE_BAND = 'rgba(40,40,255,0.13)', RED_BAND = 'rgba(255,30,30,0.13)';
const BLUE_HALO = 'rgba(30,30,255,0.22)', RED_HALO = 'rgba(255,20,20,0.22)';
const rowTops = [0, 330, 659, 989, 1319];
const X_MIN = -13.6, X_MAX = 109.8;

function pts(days, vals) { return days.map((d, i) => ({x: d, y: vals[i]})); }
function lineDs(label, days, vals, color, width, extra) {
  return Object.assign({label, data: pts(days, vals), borderColor: color, backgroundColor: color,
    borderWidth: width, pointRadius: 0, fill: false, tension: 0,
    borderJoinStyle: 'round', borderCapStyle: 'round'}, extra || {});
}
function bandDs(label, days, hi, lo, color, order) {
  return [
    {label: label + ' max', data: pts(days, hi), borderColor: 'rgba(0,0,0,0)', borderWidth: 1, pointRadius: 0, fill: '+1', backgroundColor: color, order, tension: 0},
    {label: label + ' min', data: pts(days, lo), borderColor: 'rgba(0,0,0,0)', borderWidth: 1, pointRadius: 0, fill: false, order: order + 0.5, tension: 0}
  ];
}
function pixelPanel(ctrlD, ctrlV, drtD, drtV, bandD, cHi, cLo, dHi, dLo) {
  return [
    lineDs('Drought', drtD, drtV, RED, 3.8, {order: 0}),
    lineDs('Control', ctrlD, ctrlV, BLUE, 3.8, {order: 1}),
    lineDs('Drought core', drtD, drtV, RED_HALO, 9, {order: 2}),
    lineDs('Control core', ctrlD, ctrlV, BLUE_HALO, 9, {order: 3}),
    ...bandDs('Drought', bandD, dHi, dLo, RED_BAND, 4),
    ...bandDs('Control', bandD, cHi, cLo, BLUE_BAND, 6)
  ];
}
function sdPanel(ctrlD, ctrlV, drtD, drtV) {
  return [
    lineDs('Drought', drtD, drtV, RED, 3.2, {order: 0}),
    lineDs('Control', ctrlD, ctrlV, BLUE, 3.2, {order: 1})
  ];
}
function ext(lo, hi, f) { const r = hi - lo; return [lo - f * r, hi + f * r]; }

const SUP = (s) => '^{' + s + '}';
const panels = [
  {id: '(a)', col: 0, row: 0, yTicks: [0,250,500,750,1000,1250], yLabels: ['0','250','500','750','1000','1250'], yRange: [-60, 1364],
   title: ['Solar Radiation', '(W m' + SUP('\u22122') + ')'], note: true,
   datasets: [lineDs('Solar radiation', solarDays, solarVals, '#000', 3.3)]},
  {id: '(b)', col: 1, row: 0, yTicks: [0,10,20,30,40,50], yLabels: ['0','10','20','30','40','50'], yRange: ext(0, 50, 0.05),
   title: ['Temperature', '(\u00B0C)'],
   datasets: [lineDs('Mean temperature', tMeanDays, tMeanVals, '#000', 3.5, {order: 0}),
              lineDs('Max temperature', tMaxDays, tMaxVals, '#000', 1.6, {borderDash: [7, 5], order: 1}),
              lineDs('Min temperature', tMinDays, tMinVals, '#000', 1.6, {borderDash: [8, 6], order: 2})]},
  {id: '(c)', col: 0, row: 1, yTicks: [0,25,50,75,100], yLabels: ['0','25','50','75','100'], yRange: ext(0, 100, 0.048),
   title: ['PM2.5', '(ug m' + SUP('\u22123') + ')'],
   datasets: [lineDs('PM2.5', pmDays, pmVals, '#000', 3.3)]},
  {id: '(d)', col: 1, row: 1, yTicks: [0,2.5,5,7.5,10], yLabels: ['0.0','2.5','5.0','7.5','10.0'], yRange: ext(0, 10, 0.048),
   title: ['Precipitation', '(mm)'],
   datasets: [lineDs('Precipitation', precipDays, precipVals, '#000', 4.5, {borderCapStyle: 'butt'})]},
  {id: '(e)', col: 0, row: 2, yTicks: [0,0.25,0.5,0.75,1], yLabels: ['0.00','0.25','0.50','0.75','1.00'], yRange: ext(0, 1, 0.048),
   title: ['NDVI'],
   datasets: pixelPanel(ndviCtrlDays, ndviCtrlVals, ndviDrtDays, ndviDrtVals, ndviBandDays, ndviCtrlHi, ndviCtrlLo, ndviDrtHi, ndviDrtLo)},
  {id: '(f)', col: 1, row: 2, yTicks: [0,0.025,0.05,0.075,0.1], yLabels: ['0.000','0.025','0.050','0.075','0.100'], yRange: ext(0, 0.1, 0.048),
   title: ['NDVI SD'],
   datasets: sdPanel(ndviSdCtrlDays, ndviSdCtrlVals, ndviSdDrtDays, ndviSdDrtVals)},
  {id: '(g)', col: 0, row: 3, yTicks: [-0.3,-0.2,-0.1,0], yLabels: ['-0.3','-0.2','-0.1','0.0'], yRange: ext(-0.3, 0, 0.048),
   title: ['PRI'],
   datasets: pixelPanel(priCtrlDays, priCtrlVals, priDrtDays, priDrtVals, priBandDays, priCtrlHi, priCtrlLo, priDrtHi, priDrtLo)},
  {id: '(h)', col: 1, row: 3, yTicks: [0,0.01,0.02,0.03], yLabels: ['0.00','0.01','0.02','0.03'], yRange: ext(0, 0.03, 0.048),
   title: ['PRI SD'],
   datasets: sdPanel(priSdCtrlDays, priSdCtrlVals, priSdDrtDays, priSdDrtVals)},
  {id: '(i)', col: 0, row: 4, yTicks: [0,2,4,6], yLabels: ['0','2','4','6'], yRange: ext(0, 6, 0.048),
   title: ['SIF', '(mW m' + SUP('\u22121') + ' sr' + SUP('\u22121') + ' nm' + SUP('\u22121') + ')'],
   datasets: pixelPanel(sifCtrlDays, sifCtrlVals, sifDrtDays, sifDrtVals, sifBandDays, sifCtrlHi, sifCtrlLo, sifDrtHi, sifDrtLo)},
  {id: '(j)', col: 1, row: 4, yTicks: [0,0.5,1,1.5], yLabels: ['0.0','0.5','1.0','1.5'], yRange: ext(0, 1.5, 0.048),
   title: ['SIF SD', '(mW m' + SUP('\u22121') + ' sr' + SUP('\u22121') + ' nm' + SUP('\u22121') + ')'], legend: true,
   datasets: sdPanel(sifSdCtrlDays, sifSdCtrlVals, sifSdDrtDays, sifSdDrtVals)}
];

function parseRich(s) {
  const out = []; const re = /\^\{([^}]*)\}/g; let last = 0, m;
  while ((m = re.exec(s))) {
    if (m.index > last) out.push({t: s.slice(last, m.index)});
    out.push({t: m[1], sup: true}); last = re.lastIndex;
  }
  if (last < s.length) out.push({t: s.slice(last)});
  return out;
}
function drawRich(ctx, s, size) {
  const segs = parseRich(s);
  let total = 0;
  const ws = segs.map(sg => { ctx.font = (sg.sup ? size * 0.72 : size) + 'px ' + FONT; const w = ctx.measureText(sg.t).width; total += w; return w; });
  let x = -total / 2;
  segs.forEach((sg, k) => {
    ctx.font = (sg.sup ? size * 0.72 : size) + 'px ' + FONT;
    ctx.fillText(sg.t, x, sg.sup ? -size * 0.36 : 0);
    x += ws[k];
  });
}

function decor(p) {
  return {
    id: 'decor',
    afterDatasetsDraw(chart) {
      const {ctx, chartArea: a, scales: {x}} = chart;
      ctx.save();
      const xi = Math.round(x.getPixelForValue(irrigationDay)) + 0.5;
      ctx.strokeStyle = '#000'; ctx.lineWidth = 1.6; ctx.setLineDash([2, 4]);
      ctx.beginPath(); ctx.moveTo(xi, a.top); ctx.lineTo(xi, a.bottom); ctx.stroke();
      ctx.setLineDash([]);
      ctx.strokeStyle = '#222'; ctx.lineWidth = 1.6;
      ctx.strokeRect(a.left, a.top, a.right - a.left, a.bottom - a.top);
      ctx.restore();
    },
    afterDraw(chart) {
      const {ctx, chartArea: a, scales: {x}} = chart;
      ctx.save();
      ctx.fillStyle = '#000'; ctx.textBaseline = 'middle'; ctx.textAlign = 'left';
      // panel label
      ctx.font = 'bold 24px ' + FONT;
      ctx.fillText(p.id, p.col === 0 ? 8 : 14, 16);
      // y-axis title
      const cy = (a.top + a.bottom) / 2;
      const xs = p.title.length === 2 ? (p.col === 0 ? [16, 54] : [20, 59]) : [p.col === 0 ? 35 : 41];
      p.title.forEach((ln, i) => {
        ctx.save(); ctx.translate(xs[i], cy); ctx.rotate(-Math.PI / 2);
        ctx.textBaseline = 'middle'; ctx.textAlign = 'left';
        drawRich(ctx, ln, 22.5);
        ctx.restore();
      });
      if (p.note) {
        ctx.font = '21px ' + FONT; ctx.textAlign = 'left';
        ctx.fillText(irrigationText, x.getPixelForValue(irrigationDay) + 6, a.top + 15);
      }
      if (p.legend) {
        const bx = 164, by = 7, bw = 144, bh = 98;
        ctx.fillStyle = '#fff'; ctx.fillRect(bx, by, bw, bh);
        ctx.strokeStyle = '#000'; ctx.lineWidth = 1.6; ctx.strokeRect(bx, by, bw, bh);
        const colors = [BLUE, RED];
        legendLabels.forEach((lab, i) => {
          const ly = 46 + i * 33;
          ctx.strokeStyle = colors[i]; ctx.lineWidth = 4;
          ctx.beginPath(); ctx.moveTo(178, ly); ctx.lineTo(203, ly); ctx.stroke();
          ctx.fillStyle = '#000'; ctx.font = '22px ' + FONT; ctx.textAlign = 'left';
          ctx.fillText(lab, 217, ly);
        });
      }
      ctx.restore();
    }
  };
}

function makeChart(p) {
  const W = p.col === 0 ? 886 : 884, H = 314;
  const yW = p.col === 0 ? 150 : 156;
  const padR = p.col === 0 ? 10 : 3;
  const cv = document.createElement('canvas');
  cv.width = W; cv.height = H;
  cv.style.left = (p.col === 0 ? 0 : 886) + 'px';
  cv.style.top = rowTops[p.row] + 'px';
  cv.style.width = W + 'px'; cv.style.height = H + 'px';
  document.body.appendChild(cv);
  new Chart(cv, {
    type: 'line',
    data: {datasets: p.datasets},
    options: {
      responsive: false, animation: false, devicePixelRatio: 1,
      layout: {padding: {left: 0, right: padR, top: 3, bottom: 0}},
      plugins: {legend: {display: false}, tooltip: {enabled: false}},
      elements: {point: {radius: 0}, line: {tension: 0}},
      scales: {
        x: {
          type: 'linear', min: X_MIN, max: X_MAX,
          afterBuildTicks: s => { s.ticks = tickDays.map(v => ({value: v})); },
          afterFit: s => { s.height = 43; s.paddingLeft = 0; s.paddingRight = 0; },
          ticks: {autoSkip: false, maxRotation: 0, minRotation: 0, color: '#000', padding: 5,
                  font: {family: FONT, size: 22}, callback: v => tickLabels[tickDays.indexOf(v)]},
          grid: {drawOnChartArea: false, drawTicks: true, tickLength: 14, color: '#000', lineWidth: 1.5},
          border: {display: false}
        },
        y: {
          type: 'linear', min: p.yRange[0], max: p.yRange[1],
          afterBuildTicks: s => { s.ticks = p.yTicks.map(v => ({value: v})); },
          afterFit: s => { s.width = yW; s.paddingTop = 0; s.paddingBottom = 0; },
          ticks: {color: '#000', padding: 4, font: {family: FONT, size: 22},
                  callback: v => p.yLabels[p.yTicks.indexOf(v)]},
          grid: {drawOnChartArea: false, drawTicks: true, tickLength: 15, color: '#000', lineWidth: 1.5},
          border: {display: false}
        }
      }
    },
    plugins: [decor(p)]
  });
}
panels.forEach(makeChart);
</script>
</body>
</html>
